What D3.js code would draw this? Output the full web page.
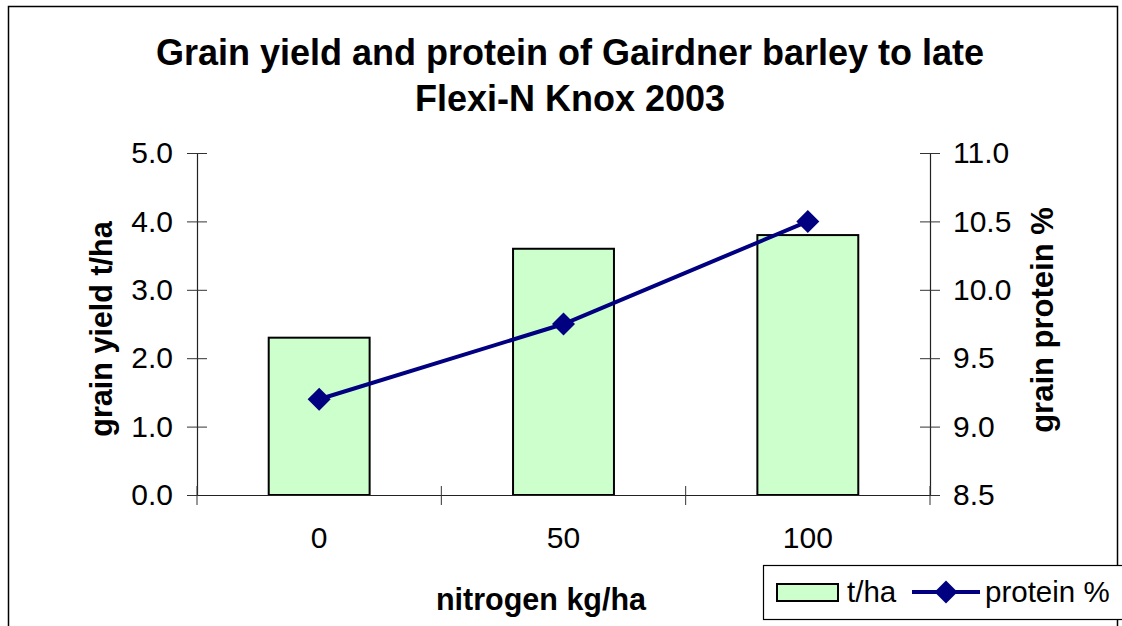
<!DOCTYPE html>
<html>
<head>
<meta charset="utf-8">
<script src="https://cdn.jsdelivr.net/npm/d3@7"></script>
<style>
  body { margin: 0; background: #fff; }
  svg { display: block; font-family: "Liberation Sans", Arial, sans-serif; }
</style>
</head>
<body>
<div id="wrapper"></div>
<script>
// chart data
const nitrogen = ["0", "50", "100"]
const yieldTha = [2.3, 3.6, 3.8]
const proteinPct = [9.2, 9.75, 10.5]
const yieldTicks = [0, 1, 2, 3, 4, 5]
const proteinTicks = [8.5, 9, 9.5, 10, 10.5, 11]
const titleLines = ["Grain yield and protein of Gairdner barley to late", "Flexi-N Knox 2003"]

const data = nitrogen.map((n, i) => ({ n, y: yieldTha[i], p: proteinPct[i] }))

// dimensions
const dims = {
  width: 1122,
  height: 626,
  left: 197,
  right: 930,
  top: 153,
  bottom: 495,
}

const svg = d3.select("#wrapper")
  .append("svg")
    .attr("width", dims.width)
    .attr("height", dims.height)

// chart border
svg.append("rect")
    .attr("x", 8.5)
    .attr("y", 6.5)
    .attr("width", 1109)
    .attr("height", 640)
    .attr("fill", "none")
    .attr("stroke", "#000")
    .attr("stroke-width", 1.5)

// scales
const xScale = d3.scaleBand()
  .domain(nitrogen)
  .range([dims.left, dims.right])
  .paddingInner(0.587)
  .paddingOuter(0.587 / 2)

const yScale = d3.scaleLinear()
  .domain([0, 5])
  .range([dims.bottom, dims.top])

const pScale = d3.scaleLinear()
  .domain([8.5, 11])
  .range([dims.bottom, dims.top])

// bars
svg.append("g")
  .selectAll("rect")
  .data(data)
  .join("rect")
    .attr("x", d => xScale(d.n))
    .attr("y", d => yScale(d.y))
    .attr("width", xScale.bandwidth())
    .attr("height", d => yScale(0) - yScale(d.y))
    .attr("fill", "#ccffcc")
    .attr("stroke", "#000")
    .attr("stroke-width", 2)

// axes
const tickFont = "30px"

const yAxis = svg.append("g")
    .attr("transform", `translate(${dims.left},0)`)
    .call(d3.axisLeft(yScale).tickValues(yieldTicks).tickFormat(d3.format(".1f")).tickSize(10).tickSizeOuter(0).tickPadding(14))
yAxis.selectAll(".tick line").attr("transform", "translate(-10,0)").attr("x2", 20)

const pAxis = svg.append("g")
    .attr("transform", `translate(${dims.right},0)`)
    .call(d3.axisRight(pScale).tickValues(proteinTicks).tickFormat(d3.format(".1f")).tickSize(10).tickSizeOuter(0).tickPadding(13))
pAxis.selectAll(".tick line").attr("transform", "translate(-10,0)").attr("x2", 20)

const xAxis = svg.append("g")
    .attr("transform", `translate(0,${dims.bottom})`)
    .call(d3.axisBottom(xScale).tickSize(0).tickPadding(32))

// boundary ticks on the category axis
const bounds = [dims.left].concat(nitrogen.map(n => xScale(n) + xScale.bandwidth() / 2 + xScale.step() / 2))
xAxis.selectAll(".cat-tick")
  .data(bounds)
  .join("line")
    .attr("class", "cat-tick")
    .attr("x1", d => d)
    .attr("x2", d => d)
    .attr("y1", -9)
    .attr("y2", 10)
    .attr("stroke", "#333")

svg.selectAll(".domain").attr("stroke", "#222").attr("stroke-width", 1.2)
svg.selectAll(".tick line").attr("stroke", "#333")
svg.selectAll(".tick text")
    .attr("font-size", tickFont)
    .attr("font-family", "'Liberation Sans', Arial, sans-serif")
    .attr("fill", "#000")

// protein line
const lineGenerator = d3.line()
  .x(d => xScale(d.n) + xScale.bandwidth() / 2)
  .y(d => pScale(d.p))

svg.append("path")
    .attr("d", lineGenerator(data))
    .attr("fill", "none")
    .attr("stroke", "#000080")
    .attr("stroke-width", 4)

const diamond = d3.symbol().type(d3.symbolDiamond2).size(338)
svg.append("g")
  .selectAll("path")
  .data(data)
  .join("path")
    .attr("d", diamond)
    .attr("transform", d => `translate(${xScale(d.n) + xScale.bandwidth() / 2},${pScale(d.p)})`)
    .attr("fill", "#000080")

// title
svg.append("text")
    .attr("text-anchor", "middle")
    .attr("font-size", 36)
    .attr("font-weight", "bold")
  .selectAll("tspan")
  .data(titleLines)
  .join("tspan")
    .attr("x", 570)
    .attr("y", (d, i) => 65 + i * 46)
    .text(d => d)

// axis titles
svg.append("text")
    .attr("text-anchor", "middle")
    .attr("font-size", 30.5)
    .attr("font-weight", "bold")
    .attr("x", 541)
    .attr("y", 610)
    .text("nitrogen kg/ha")

svg.append("text")
    .attr("text-anchor", "middle")
    .attr("font-size", 30.5)
    .attr("font-weight", "bold")
    .attr("transform", "translate(112,329) rotate(-90)")
    .text("grain yield t/ha")

svg.append("text")
    .attr("text-anchor", "middle")
    .attr("font-size", 31)
    .attr("font-weight", "bold")
    .attr("transform", "translate(1053,320) rotate(-90)")
    .text("grain protein %")

// legend
const legend = svg.append("g")
legend.append("rect")
    .attr("x", 763.5)
    .attr("y", 565.5)
    .attr("width", 380)
    .attr("height", 54)
    .attr("fill", "#fff")
    .attr("stroke", "#000")
    .attr("stroke-width", 1.2)
legend.append("rect")
    .attr("x", 777)
    .attr("y", 584)
    .attr("width", 61)
    .attr("height", 17)
    .attr("fill", "#ccffcc")
    .attr("stroke", "#000")
    .attr("stroke-width", 2)
legend.append("text")
    .attr("x", 847)
    .attr("y", 602)
    .attr("font-size", 29.5)
    .text("t/ha")
legend.append("line")
    .attr("x1", 912)
    .attr("x2", 980)
    .attr("y1", 592)
    .attr("y2", 592)
    .attr("stroke", "#000080")
    .attr("stroke-width", 4)
legend.append("path")
    .attr("d", diamond)
    .attr("transform", "translate(946,592)")
    .attr("fill", "#000080")
legend.append("text")
    .attr("x", 985)
    .attr("y", 602)
    .attr("font-size", 29.5)
    .text("protein %")
</script>
</body>
</html>
